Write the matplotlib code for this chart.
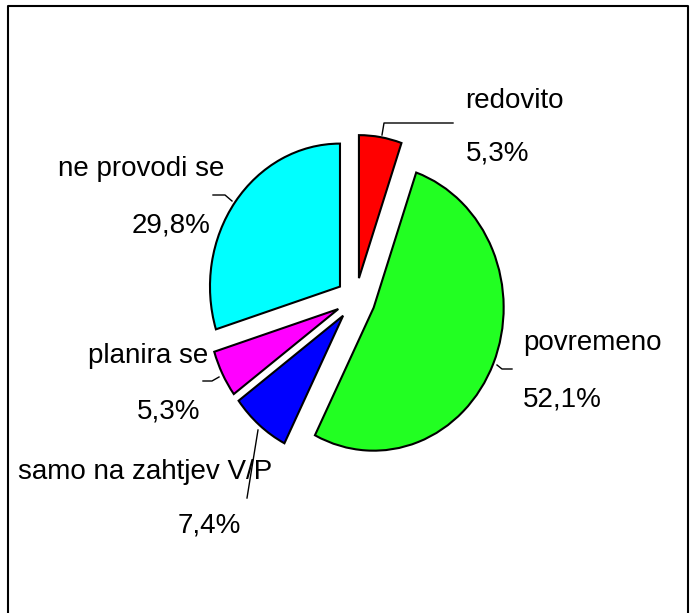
import matplotlib
matplotlib.use("Agg")
import matplotlib.pyplot as plt

labels = ["redovito", "povremeno", "samo na zahtjev V/P", "planira se", "ne provodi se"]
values = [5.3, 52.1, 7.4, 5.3, 29.8]
pct_labels = ["5,3%", "52,1%", "7,4%", "5,3%", "29,8%"]
colors = ["#ff0000", "#22ff22", "#0000ff", "#ff00ff", "#00ffff"]

plt.rcParams["font.family"] = ["Liberation Sans", "DejaVu Sans"]

W, H = 695, 613
fig = plt.figure(figsize=(W / 100, H / 100), dpi=100)

# pie axes: unit circle stretched a bit vertically (ellipse like the original)
cx, cy, rx, ry = 355.7, 299.3, 130, 143
ax = fig.add_axes([0, 0, 1, 1])
ax.pie(values, colors=colors, startangle=90, counterclock=False,
       explode=[0.15] * len(values),
       wedgeprops=dict(edgecolor="black", linewidth=1.5))
ax.set_aspect("auto")
ax.set_xlim((0 - cx) / rx, (W - cx) / rx)
ax.set_ylim((cy - H) / ry, (cy - 0) / ry)
ax.axis("off")

# overlay in pixel coordinates for labels, leader lines and frame
ov = fig.add_axes([0, 0, 1, 1])
ov.set_xlim(0, W)
ov.set_ylim(H, 0)
ov.axis("off")

name_pos = [(465, 108), (523, 350), (18, 479), (88, 363), (58, 176)]
pct_pos = [(466, 160), (523, 407), (178, 533), (137, 418), (132, 232)]
for lab, pct, (nx, ny), (px, py) in zip(labels, pct_labels, name_pos, pct_pos):
    ov.text(nx, ny, lab, fontsize=20, va="baseline", ha="left")
    ov.text(px, py, pct, fontsize=20, va="baseline", ha="left")

leaders = [
    [(382, 135), (384, 123), (453, 123)],
    [(497, 365), (502, 369), (512, 369)],
    [(258, 430), (247, 498)],
    [(219, 377), (212, 381), (203, 381)],
    [(232, 201), (225, 195), (213, 195)],
]
for pts in leaders:
    xs, ys = zip(*pts)
    ov.plot(xs, ys, color="black", linewidth=1)

# frame
ov.plot([7.5, 7.5, 688, 688], [H, 6, 6, H], color="black", linewidth=1.5)

fig.savefig("out.png", dpi=100)
